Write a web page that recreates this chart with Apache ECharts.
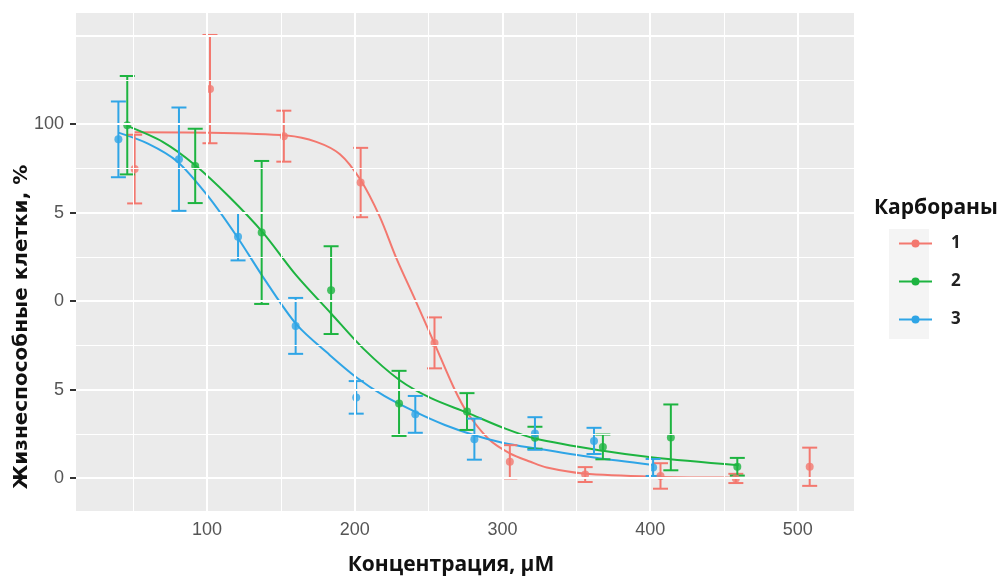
<!DOCTYPE html>
<html>
<head>
<meta charset="utf-8">
<script src="https://cdn.jsdelivr.net/npm/echarts@6/dist/echarts.min.js"></script>
<style>
  html, body { margin: 0; padding: 0; background: #fff; }
  #chart { width: 1005px; height: 577px; }
</style>
</head>
<body>
<div id="chart"></div>
<script>
// measured points: concentration, mean, error
const concRed = [51, 102, 152, 204, 254, 305, 356, 407, 458, 508]
const meanRed = [87.3, 109.9, 96.6, 83.5, 38.2, 4.6, 1.0, 0.6, -0.1, 3.2]
const errRed = [9.7, 15.3, 7.2, 9.8, 7.2, 4.7, 2.1, 3.6, 1.3, 5.4]

const concGreen = [46, 92, 137, 184, 230, 276, 322, 368, 414, 459]
const meanGreen = [99.7, 88.2, 69.4, 53.1, 21.1, 18.8, 11.4, 8.8, 11.5, 3.2]
const errGreen = [13.9, 10.5, 20.2, 12.4, 9.2, 5.2, 3.1, 3.5, 9.3, 2.5]

const concBlue = [40, 81, 121, 160, 201, 241, 281, 322, 362, 402]
const meanBlue = [95.7, 90.1, 68.2, 43.0, 22.8, 18.0, 11.0, 12.6, 10.5, 3.0]
const errBlue = [10.7, 14.6, 6.7, 7.9, 4.6, 5.2, 5.8, 4.6, 3.7, 2.4]

// fitted curves
const fitRedX = [51, 100, 154, 174, 190, 204, 217, 228, 241, 254, 267, 276, 291, 305, 319, 330, 355, 402, 459, 508]
const fitRedY = [97.7, 97.6, 96.8, 95.0, 91.5, 84.2, 73.8, 62.3, 50.3, 38.0, 25.6, 18.6, 10.9, 7.0, 4.6, 3.0, 1.3, 0.4, 0.1, 0.0]

const fitGreenX = [46, 70, 92, 115, 138, 160, 184, 206, 230, 252, 276, 300, 322, 368, 402, 460]
const fitGreenY = [99.5, 95.0, 88.4, 79.5, 69.3, 57.5, 46.5, 36.5, 27.8, 22.5, 18.5, 14.3, 11.2, 7.7, 5.8, 3.6]

const fitBlueX = [40, 60, 80, 100, 120, 140, 161, 183, 201, 220, 241, 261, 281, 300, 322, 362, 402]
const fitBlueY = [97.6, 94.5, 89.4, 80.0, 68.4, 55.5, 43.2, 34.8, 28.5, 23.2, 18.7, 15.0, 12.1, 10.0, 8.4, 5.8, 3.7]

const groups = ['1', '2', '3']
const colors = ['#F3786F', '#1DB440', '#2FA5E6']

const xTicks = [100, 200, 300, 400, 500]
const xMinor = [50, 150, 250, 350, 450]
const yTicks = [0, 25, 50, 75, 100]
const yTickLabels = ['0', '5', '0', '5', '100']
const yMajorExtra = [125]
const yMinor = [12.5, 37.5, 62.5, 87.5, 112.5]

const xRange = [11.3, 538]
const yRange = [-9.3, 131.4]

const chart = echarts.init(document.getElementById('chart'))

function zip(xs, ys) {
  return xs.map((x, i) => [x, ys[i]])
}

function errorSeries(name, xs, ys, es, color) {
  return {
    name: name,
    type: 'custom',
    z: 3,
    silent: true,
    data: xs.map((x, i) => [x, ys[i] - es[i], ys[i] + es[i]]),
    renderItem: function (params, api) {
      const lo = api.coord([api.value(0), api.value(1)])
      const hi = api.coord([api.value(0), api.value(2)])
      const hw = 7.5
      const style = { stroke: color, lineWidth: 2 }
      return {
        type: 'group',
        children: [
          { type: 'line', shape: { x1: lo[0], y1: lo[1], x2: hi[0], y2: hi[1] }, style: style },
          { type: 'line', shape: { x1: lo[0] - hw, y1: lo[1], x2: lo[0] + hw, y2: lo[1] }, style: style },
          { type: 'line', shape: { x1: hi[0] - hw, y1: hi[1], x2: hi[0] + hw, y2: hi[1] }, style: style }
        ]
      }
    }
  }
}

function pointSeries(name, xs, ys, color) {
  return {
    name: name,
    type: 'scatter',
    z: 4,
    symbol: 'circle',
    symbolSize: 8,
    itemStyle: { color: color },
    data: zip(xs, ys)
  }
}

function curveSeries(name, xs, ys, color) {
  return {
    name: name,
    type: 'line',
    z: 2,
    smooth: 0.3,
    showSymbol: false,
    symbol: 'circle',
    symbolSize: 7,
    lineStyle: { color: color, width: 2 },
    itemStyle: { color: color },
    data: zip(xs, ys)
  }
}

// background grid lines drawn as markLines
const gridLines = []
xTicks.forEach(v => gridLines.push({ xAxis: v, lineStyle: { width: 2 } }))
xMinor.forEach(v => gridLines.push({ xAxis: v, lineStyle: { width: 1 } }))
yTicks.concat(yMajorExtra).forEach(v => gridLines.push({ yAxis: v, lineStyle: { width: 2 } }))
yMinor.forEach(v => gridLines.push({ yAxis: v, lineStyle: { width: 1 } }))

const option = {
  animation: false,
  backgroundColor: '#ffffff',
  grid: {
    left: 76,
    right: 151,
    top: 13,
    bottom: 66,
    show: true,
    backgroundColor: '#EBEBEB',
    borderWidth: 0
  },
  xAxis: {
    type: 'value',
    min: xRange[0],
    max: xRange[1],
    axisLine: { show: false },
    splitLine: { show: false },
    axisTick: { show: true, customValues: xTicks, length: 5, lineStyle: { color: '#333', width: 2 } },
    axisLabel: {
      customValues: xTicks,
      color: '#555',
      fontSize: 18,
      fontFamily: 'Liberation Sans',
      margin: 10
    }
  },
  yAxis: {
    type: 'value',
    min: yRange[0],
    max: yRange[1],
    axisLine: { show: false },
    splitLine: { show: false },
    axisTick: { show: true, customValues: yTicks, length: 6, lineStyle: { color: '#333', width: 2 } },
    axisLabel: {
      customValues: yTicks,
      color: '#555',
      fontSize: 18,
      fontFamily: 'Liberation Sans',
      margin: 12,
      formatter: function (v) {
        const i = yTicks.indexOf(v)
        return i >= 0 ? yTickLabels[i] : ''
      }
    }
  },
  legend: {
    orient: 'vertical',
    left: 893,
    top: 230,
    itemWidth: 33,
    itemHeight: 10,
    itemGap: 21,
    data: groups,
    selectedMode: false,
    textStyle: {
      fontSize: 17,
      fontWeight: 'bold',
      color: '#222',
      fontFamily: 'Open Sans',
      padding: [0, 0, 0, 14]
    }
  },
  graphic: [
    {
      type: 'rect',
      left: 889,
      top: 229,
      shape: { width: 40, height: 110 },
      style: { fill: '#F4F4F4' },
      z: -1
    },
    {
      type: 'text',
      left: 874,
      top: 198,
      style: {
        text: 'Карбораны',
        fontSize: 21,
        fontWeight: 'bold',
        fontFamily: 'Open Sans',
        fill: '#111'
      }
    },
    {
      type: 'text',
      x: 451,
      y: 565,
      style: {
        text: 'Концентрация, μM',
        fontSize: 21,
        fontWeight: 'bold',
        fontFamily: 'Open Sans',
        fill: '#111',
        align: 'center',
        verticalAlign: 'middle'
      }
    },
    {
      type: 'text',
      x: 22,
      y: 327,
      rotation: Math.PI / 2,
      style: {
        text: 'Жизнеспособные клетки, %',
        fontSize: 20,
        fontWeight: 'bold',
        fontFamily: 'DejaVu Sans',
        fill: '#111',
        align: 'center',
        verticalAlign: 'middle'
      }
    }
  ],
  series: [
    curveSeries(groups[0], fitRedX, fitRedY, colors[0]),
    curveSeries(groups[1], fitGreenX, fitGreenY, colors[1]),
    curveSeries(groups[2], fitBlueX, fitBlueY, colors[2]),
    {
      name: 'grid',
      type: 'line',
      data: [],
      z: 1,
      silent: true,
      markLine: {
        silent: true,
        symbol: 'none',
        label: { show: false },
        lineStyle: { color: '#ffffff', type: 'solid' },
        data: gridLines
      }
    },
    errorSeries('1', concRed, meanRed, errRed, colors[0]),
    errorSeries('2', concGreen, meanGreen, errGreen, colors[1]),
    errorSeries('3', concBlue, meanBlue, errBlue, colors[2]),
    pointSeries('1', concRed, meanRed, colors[0]),
    pointSeries('2', concGreen, meanGreen, colors[1]),
    pointSeries('3', concBlue, meanBlue, colors[2])
  ]
}

chart.setOption(option)
</script>
</body>
</html>
